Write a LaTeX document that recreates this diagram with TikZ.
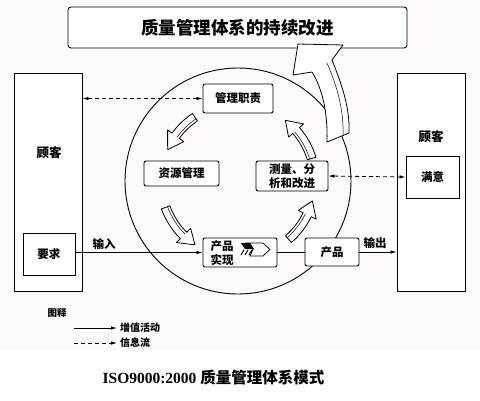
\documentclass[tikz,border=0pt]{standalone}
\usepackage{fontspec}
\setmainfont{Liberation Serif}
\newfontfamily\cjk{Noto Sans CJK SC}
\usetikzlibrary{calc,arrows.meta}
\tikzset{
    blk/.style = {draw, fill=white, rounded corners=2pt, line width=0.9pt, inner sep=0pt},
    sq/.style = {draw, fill=white, line width=0.9pt, inner sep=0pt},
    txt/.style = {font=\cjk\bfseries\fontsize{11.5}{13.5}\selectfont, inner sep=0pt, align=center},
    small/.style = {font=\cjk\bfseries\fontsize{10}{12}\selectfont, inner sep=0pt},
    hollow/.style = {draw, fill=white, line width=0.8pt, line join=round},
    info/.style = {dash pattern=on 4pt off 3pt, line width=0.8pt},
    flow/.style = {line width=0.8pt},
    >={Latex[length=6pt,width=3.5pt]}
}
\newcommand{\ringarrow}[3]{%
    \draw[hollow] ($(ctr)+(#1:81.5)$) arc[start angle=#1, end angle=#2, radius=81.5]
        -- ($(ctr)+(#2:87)$) -- ($(ctr)+(#3:77)$) -- ($(ctr)+(#2:67)$)
        -- ($(ctr)+(#2:72.5)$) arc[start angle=#2, end angle=#1, radius=72.5] -- cycle;
    \draw[line width=0.5pt] ($(ctr)+(#1:75)$) arc[start angle=#1, end angle=#2, radius=75];
}

\begin{document}
\begin{tikzpicture}[x=1pt, y=-1pt]
    \useasboundingbox (0,0) rectangle (480,400);
    \fill[fill={rgb,255:red,253;green,249;blue,252}] (0,0) rectangle (480,350);

    \node[blk, rounded corners=3pt, minimum width=339pt, minimum height=41pt] (title) at (237.5,27.5)
        {\cjk\bfseries\fontsize{17.5}{20}\selectfont 质量管理体系的持续改进};

    \coordinate (ctr) at (238,181);
    \draw[line width=0.9pt] (ctr) circle[radius=113];

    \draw[hollow] (327,142) .. controls (328,112) and (322,88) .. (312,72) -- (293,75) -- (298,44)
        -- (343,45) -- (332,60) .. controls (342,85) and (350,108) .. (349,133) -- cycle;
    \draw[line width=0.5pt] (343,136) .. controls (344,110) and (337,86) .. (327,63);

    \ringarrow{236}{216}{204}
    \ringarrow{160}{135}{124}
    \ringarrow{49}{26}{15}
    \ringarrow{-17}{-41}{-52}

    \node[sq, minimum width=68pt, minimum height=218pt] (custL) at (48,182) {};
    \node[sq, minimum width=68pt, minimum height=218pt] (custR) at (431,182) {};
    \node[txt, font=\cjk\bfseries\fontsize{12.5}{14}\selectfont] (custLtxt) at (49,153) {顾客};
    \node[txt, font=\cjk\bfseries\fontsize{12.5}{14}\selectfont] (custRtxt) at (431,137) {顾客};
    \node[sq, minimum width=52pt, minimum height=42pt] (req) at (49,254) {};
    \node[txt] (reqtxt) at (49,254) {要求};
    \node[sq, minimum width=53pt, minimum height=42pt] (sat) at (432.5,177) {};
    \node[txt] (sattxt) at (432.5,177) {满意};

    \node[blk, minimum width=70pt, minimum height=29pt] (mgmt) at (238,98.5) {};
    \node[txt] (mgmttxt) at (238,98.5) {管理职责};
    \node[blk, minimum width=75pt, minimum height=25pt] (res) at (181.5,173.5) {};
    \node[txt] (restxt) at (181.5,173.5) {资源管理};
    \node[blk, minimum width=72pt, minimum height=30pt] (meas) at (292,176) {};
    \node[txt] (meastxt) at (292,176) {测量、分\\析和改进};
    \node[blk, minimum width=74pt, minimum height=29pt] (real) at (240,252.5) {};
    \node[txt] (realtxt) at (222,253) {产品\\实现};
    \node[blk, minimum width=54pt, minimum height=28pt] (prod) at (332,252) {};
    \node[txt] (prodtxt) at (332,252) {产品};

    \draw[line width=0.7pt, fill=white] (246,243) -- (263,243) -- (270,249.5) -- (263,256) -- (250,256) -- (253,249.5) -- cycle;
    \fill (241,243) -- (250,243) -- (254,249) -- (245,249) -- cycle;
    \foreach \x in {244,248,252}
    {
        \draw[line width=1pt] (\x,250) -- (\x-3,255);
    }

    \draw[info, <->] (custL.east |- mgmt) -- (mgmt.west);
    \draw[info, <->] (meas.east) -- (sat.west);
    \draw[flow, ->] (req.east |- real) -- (real.west);
    \draw[flow] (real.east |- prod) -- (prod.west);
    \draw[flow, ->] (prod.east) -- (custR.west |- prod);
    \node[txt] (intxt) at (104,244) {输入};
    \node[txt] (outtxt) at (375,243) {输出};

    \node[small, font=\cjk\bfseries\fontsize{9.5}{11}\selectfont] (legend) at (57,313) {图释};
    \coordinate (la) at (74,328);
    \coordinate (lb) at (117,328);
    \coordinate (lc) at (74,343);
    \coordinate (ld) at (117,343);
    \draw[flow, ->] (la) -- (lb);
    \draw[info, ->] (lc) -- (ld);
    \node[small, anchor=west] (ltxt1) at (120,328) {增值活动};
    \node[small, anchor=west] (ltxt2) at (120,343) {信息流};

    \node[inner sep=0pt] (caption) at (213.5,378)
        {\fontsize{15.5}{18}\selectfont\bfseries ISO9000:2000 \cjk 质量管理体系模式};
\end{tikzpicture}
\end{document}
